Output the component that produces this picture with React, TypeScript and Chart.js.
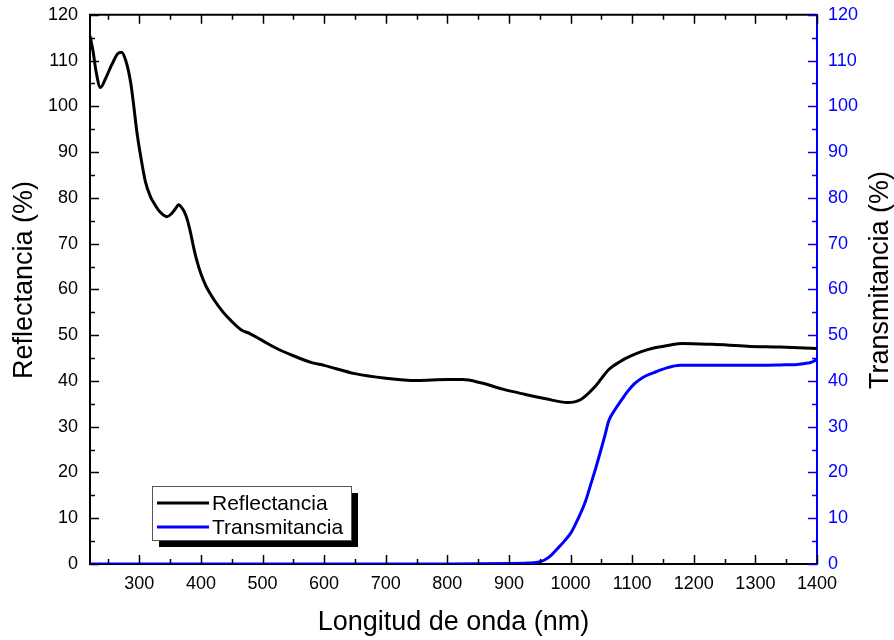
import React, { useEffect, useRef } from "react";
import { Chart, registerables } from "chart.js";

Chart.register(...registerables);

const reflWl = [220, 225, 230, 237, 245, 255, 265, 271, 278, 286, 291, 296, 302, 310, 318, 324, 333, 345, 352, 358, 364, 368, 373, 378, 383, 388, 393, 400, 408, 415, 421, 435, 450, 465, 480, 500, 520, 550, 580, 600, 650, 700, 750, 800, 825, 854, 890, 925, 960, 995, 1016, 1038, 1050, 1062, 1080, 1097, 1115, 1135, 1160, 1181, 1230, 1287, 1340, 1400];
const reflVals = [115.4, 112, 107.5, 104.1, 106, 109, 111.5, 111.8, 110, 105.2, 100.1, 94.5, 89.3, 83.5, 80.3, 78.8, 77, 75.9, 76.5, 77.5, 78.5, 78, 77, 75.2, 72.5, 69.3, 66.5, 63.4, 60.8, 59.1, 57.8, 55.2, 53, 51.2, 50.3, 48.8, 47.3, 45.5, 44, 43.4, 41.6, 40.6, 40.1, 40.3, 40.3, 39.6, 38.2, 37.1, 36.1, 35.3, 35.9, 38.5, 40.5, 42.5, 44.2, 45.4, 46.4, 47.2, 47.8, 48.2, 48, 47.6, 47.4, 47.1];

const transWl = [220, 400, 600, 800, 900, 930, 951, 965, 979, 990, 1000, 1008, 1016, 1025, 1033, 1041, 1049, 1056, 1062, 1072, 1082, 1092, 1103, 1118, 1135, 1155, 1178, 1230, 1287, 1340, 1368, 1385, 1395, 1400];
const transVals = [0, 0, 0, 0, 0.1, 0.2, 0.5, 1.5, 3.4, 5, 6.7, 8.7, 11, 14, 17.5, 21, 24.8, 28.2, 31.3, 33.7, 35.7, 37.6, 39.3, 40.8, 41.8, 42.8, 43.4, 43.4, 43.4, 43.5, 43.6, 43.9, 44.3, 44.8];

const seriesNames = ["Reflectancia", "Transmitancia"];
const xTitle = "Longitud de onda (nm)";
const yLeftTitle = "Reflectancia (%)";
const yRightTitle = "Transmitancia (%)";

const FONT = "'Liberation Sans', Arial, sans-serif";
const BLUE = "#0000ff";

const decoPlugin = {
  id: "deco",
  afterDraw(chart: any) {
    const ctx = chart.ctx;
    const a = chart.chartArea;
    const xs = chart.scales.x;
    const yl = chart.scales.y;
    const yr = chart.scales.y2;
    ctx.save();
    ctx.strokeStyle = "#000";
    ctx.lineWidth = 2;
    ctx.beginPath();
    ctx.moveTo(a.left - 1, a.top);
    ctx.lineTo(a.right, a.top);
    ctx.stroke();
    ctx.lineWidth = 1.5;
    for (let v = 250; v <= 1400; v += 50) {
      const px = Math.round(xs.getPixelForValue(v)) + 0.5;
      const len = v % 100 === 0 ? 9 : 5;
      ctx.beginPath();
      ctx.moveTo(px, a.bottom);
      ctx.lineTo(px, a.bottom - len);
      ctx.moveTo(px, a.top);
      ctx.lineTo(px, a.top + len);
      ctx.stroke();
    }
    for (let v = 0; v <= 120; v += 5) {
      const len = v % 10 === 0 ? 9 : 5;
      const pl = Math.round(yl.getPixelForValue(v)) + 0.5;
      ctx.strokeStyle = "#000";
      ctx.beginPath();
      ctx.moveTo(a.left, pl);
      ctx.lineTo(a.left + len, pl);
      ctx.stroke();
      const pr = Math.round(yr.getPixelForValue(v)) + 0.5;
      ctx.strokeStyle = BLUE;
      ctx.beginPath();
      ctx.moveTo(a.right, pr);
      ctx.lineTo(a.right - len, pr);
      ctx.stroke();
    }
    ctx.fillStyle = "#000";
    ctx.font = `27px ${FONT}`;
    ctx.textAlign = "center";
    ctx.textBaseline = "middle";
    ctx.save();
    ctx.translate(25, 280);
    ctx.rotate(-Math.PI / 2);
    ctx.fillText(yLeftTitle, 0, 0);
    ctx.restore();
    ctx.save();
    ctx.translate(881, 280);
    ctx.rotate(-Math.PI / 2);
    ctx.fillText(yRightTitle, 0, 0);
    ctx.restore();
    const lx = 152, ly = 486, lw = 199, lh = 54;
    ctx.fillStyle = "#000";
    ctx.fillRect(lx + 7, ly + 7, lw, lh);
    ctx.fillStyle = "#fff";
    ctx.fillRect(lx, ly, lw, lh);
    ctx.strokeStyle = "#555";
    ctx.lineWidth = 1;
    ctx.strokeRect(lx + 0.5, ly + 0.5, lw, lh);
    const colors = ["#000", BLUE];
    const rows = [503, 527];
    ctx.font = `21px ${FONT}`;
    ctx.textAlign = "left";
    for (let i = 0; i < 2; i++) {
      ctx.strokeStyle = colors[i];
      ctx.lineWidth = 3;
      ctx.beginPath();
      ctx.moveTo(157, rows[i]);
      ctx.lineTo(209, rows[i]);
      ctx.stroke();
      ctx.fillStyle = "#000";
      ctx.fillText(seriesNames[i], 212, rows[i] + 1);
    }
    ctx.restore();
  },
};

const plain = (v: any) => String(v);

export default function App() {
  const ref = useRef<HTMLCanvasElement>(null);
  useEffect(() => {
    if (!ref.current) return;
    const chart = new Chart(ref.current, {
      type: "line",
      data: {
        datasets: [
          {
            label: seriesNames[0],
            data: reflWl.map((x, i) => ({ x, y: reflVals[i] })),
            borderColor: "#000",
            borderWidth: 3,
            pointRadius: 0,
            cubicInterpolationMode: "monotone",
            yAxisID: "y",
          },
          {
            label: seriesNames[1],
            data: transWl.map((x, i) => ({ x, y: transVals[i] })),
            borderColor: BLUE,
            borderWidth: 3,
            pointRadius: 0,
            cubicInterpolationMode: "monotone",
            yAxisID: "y2",
          },
        ],
      },
      options: {
        responsive: false,
        animation: false,
        layout: { padding: { top: 12, left: 0, right: 0, bottom: 0 } },
        plugins: { legend: { display: false }, tooltip: { enabled: false } },
        scales: {
          x: {
            type: "linear",
            min: 220,
            max: 1400,
            grid: { display: false },
            border: { display: true, color: "#000", width: 2 },
            ticks: {
              stepSize: 100,
              includeBounds: false,
              color: "#000",
              padding: 1,
              font: { family: FONT, size: 18 },
              maxRotation: 0,
              callback: plain,
            },
            title: {
              display: true,
              text: xTitle,
              color: "#000",
              font: { family: FONT, size: 27 },
              padding: { top: 0, bottom: 1 },
            },
            afterFit: (s: any) => {
              s.height = 76;
            },
          },
          y: {
            position: "left",
            min: 0,
            max: 120,
            grid: { display: false },
            border: { display: true, color: "#000", width: 2 },
            ticks: {
              stepSize: 10,
              color: "#000",
              padding: 4,
              font: { family: FONT, size: 18 },
              callback: plain,
            },
            afterFit: (s: any) => {
              s.width = 90;
            },
          },
          y2: {
            position: "right",
            min: 0,
            max: 120,
            grid: { display: false },
            border: { display: true, color: BLUE, width: 2 },
            ticks: {
              stepSize: 10,
              color: BLUE,
              padding: 3,
              font: { family: FONT, size: 18 },
              callback: plain,
            },
            afterFit: (s: any) => {
              s.width = 77;
            },
          },
        },
      },
      plugins: [decoPlugin],
    } as any);
    return () => chart.destroy();
  }, []);
  return (
    <div style={{ position: "fixed", left: 0, top: 0, width: 894, height: 640, background: "#fff" }}>
      <canvas ref={ref} width={894} height={640} />
    </div>
  );
}
